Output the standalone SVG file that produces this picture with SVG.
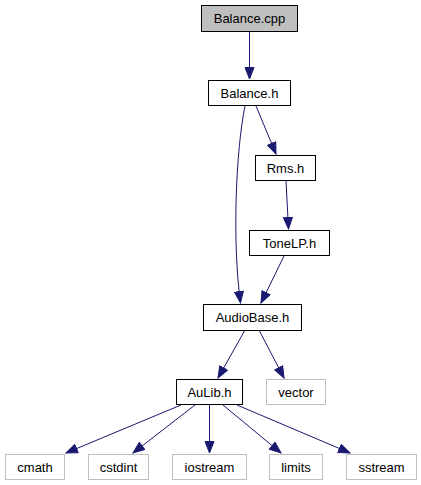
<svg xmlns="http://www.w3.org/2000/svg" width="421" height="485" viewBox="0 0 421 485">
<defs>
<style>
.n rect{fill:#fff;stroke:#000;stroke-width:1}
.g rect{fill:#fff;stroke:#bfbfbf;stroke-width:1}
.c rect{fill:#bfbfbf;stroke:#000;stroke-width:1}
text{font-family:"Liberation Sans",Arial,sans-serif;font-size:13px;fill:#000;text-anchor:middle}
.e path{fill:none;stroke:#191970;stroke-width:1}
</style>
<marker id="a" markerUnits="userSpaceOnUse" markerWidth="15" markerHeight="12" refX="12" refY="5" orient="auto">
<path d="M0.5,0.5 L12,5 L0.5,9.5 z" fill="#191970" stroke="#191970"/>
</marker>
</defs>
<rect width="421" height="485" fill="#fff"/>
<g class="e" id="edges">
<path d="M249.5,31.5 V79" marker-end="url(#a)"/>
<path d="M256,106 L276,154" marker-end="url(#a)"/>
<path d="M245,106 C236,150 232,240 240.5,303" marker-end="url(#a)"/>
<path d="M286,181 L288.5,229" marker-end="url(#a)"/>
<path d="M284,256 L261,303" marker-end="url(#a)"/>
<path d="M245,330 L218,378" marker-end="url(#a)"/>
<path d="M259,330 L284,378" marker-end="url(#a)"/>
<path d="M181,405 L66,453" marker-end="url(#a)"/>
<path d="M195,405 L133,453" marker-end="url(#a)"/>
<path d="M209.5,405 V453" marker-end="url(#a)"/>
<path d="M223,405 L281,453" marker-end="url(#a)"/>
<path d="M237,405 L350,453" marker-end="url(#a)"/>
</g>
<g class="c" id="balance_cpp"><rect x="201.5" y="5.5" width="96" height="26"/><text x="249.5" y="23">Balance.cpp</text></g>
<g class="n" id="balance_h"><rect x="208.5" y="80.5" width="82" height="25"/><text x="249.5" y="98">Balance.h</text></g>
<g class="n" id="rms_h"><rect x="255.5" y="155.5" width="60" height="25"/><text x="285.5" y="173">Rms.h</text></g>
<g class="n" id="tonelp_h"><rect x="249.5" y="230.5" width="80" height="25"/><text x="289.5" y="248">ToneLP.h</text></g>
<g class="n" id="audiobase_h"><rect x="203.5" y="304.5" width="98" height="26"/><text x="252.5" y="322">AudioBase.h</text></g>
<g class="n" id="aulib_h"><rect x="176.5" y="379.5" width="66" height="25"/><text x="209.5" y="397">AuLib.h</text></g>
<g class="g" id="vector"><rect x="266.5" y="379.5" width="59" height="25"/><text x="296" y="397">vector</text></g>
<g class="g" id="cmath"><rect x="5.5" y="454.5" width="59" height="25"/><text x="35" y="472">cmath</text></g>
<g class="g" id="cstdint"><rect x="88.5" y="454.5" width="60" height="25"/><text x="118.5" y="472">cstdint</text></g>
<g class="g" id="iostream"><rect x="172.5" y="454.5" width="74" height="25"/><text x="209.5" y="472">iostream</text></g>
<g class="g" id="limits"><rect x="269.5" y="454.5" width="53" height="25"/><text x="296" y="472">limits</text></g>
<g class="g" id="sstream"><rect x="346.5" y="454.5" width="70" height="25"/><text x="381.5" y="472">sstream</text></g>
</svg>
